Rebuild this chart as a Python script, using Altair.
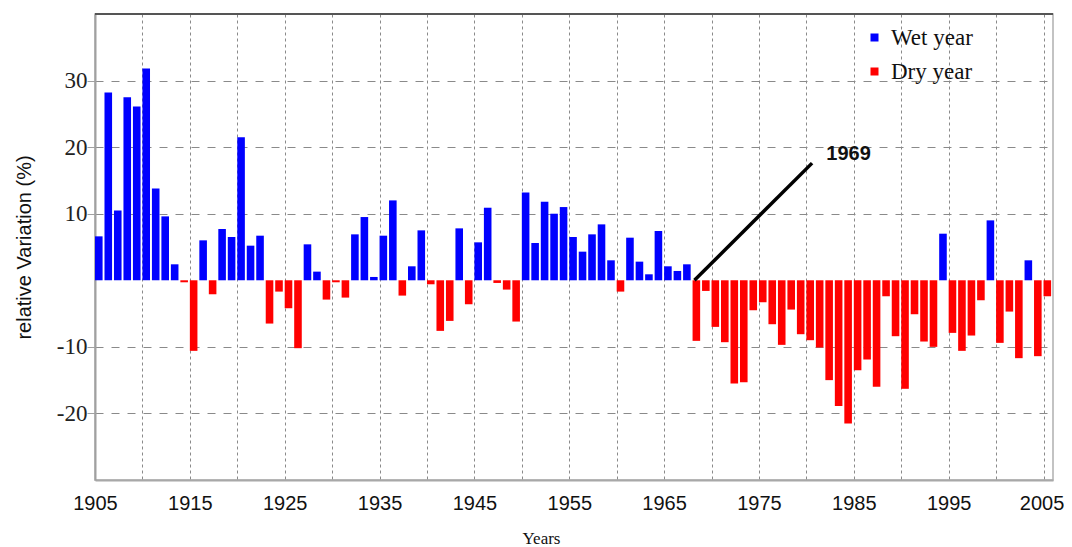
import altair as alt
import pandas as pd

# ---- data ----
start_year = 1905
values = [
    6.6, 28.2, 10.5, 27.5, 26.1, 31.8, 13.8, 9.6, 2.4, -0.3,      # 1905-1914
    -10.6, 6.0, -2.1, 7.7, 6.5, 21.5, 5.2, 6.7, -6.5, -1.7,       # 1915-1924
    -4.2, -10.2, 5.4, 1.3, -2.9, -0.3, -2.6, 6.9, 9.5, 0.5,       # 1925-1934
    6.7, 12.0, -2.3, 2.1, 7.5, -0.6, -7.6, -6.1, 7.8, -3.6,       # 1935-1944
    5.7, 10.9, -0.4, -1.4, -6.2, 13.2, 5.6, 11.8, 10.0, 11.0,     # 1945-1954
    6.5, 4.3, 6.9, 8.4, 3.0, -1.7, 6.4, 2.8, 0.9, 7.4,            # 1955-1964
    2.1, 1.4, 2.4, -9.1, -1.6, -7.0, -9.3, -15.5, -15.3, -4.5,    # 1965-1974
    -3.3, -6.6, -9.7, -4.4, -8.1, -9.0, -10.1, -15.0, -18.9, -21.5,  # 1975-1984
    -13.5, -11.9, -16.0, -2.4, -8.4, -16.3, -5.1, -9.2, -10.0, 7.0,  # 1985-1994
    -7.9, -10.6, -8.3, -3.0, 9.0, -9.4, -4.7, -11.7, 3.0, -11.4,  # 1995-2004
    -2.4,                                                          # 2005
]
years = list(range(start_year, start_year + len(values)))

series_names = ["Wet year", "Dry year"]
series_colors = ["#0000FF", "#FF0000"]

annot_x = [1968.2, 1980.6]
annot_y = [0.0, 17.6]
annot_text = ["1969"]
annot_text_x = [1982.1]
annot_text_y = [18.9]

x_domain = [1905, 2006]
y_domain = [-30, 40]
x_ticks = list(range(1905, 2006, 5))
y_ticks = [-20, -10, 10, 20, 30]

# ---- tables ----
df = pd.DataFrame({"year": years, "value": values})
df["kind"] = ["Wet year" if v > 0 else "Dry year" for v in values]

ann_df = pd.DataFrame({"year": annot_x, "value": annot_y})
lab_df = pd.DataFrame({"year": annot_text_x, "value": annot_text_y, "t": annot_text})
top_df = pd.DataFrame({"value": [y_domain[1]]})

xs = alt.Scale(domain=x_domain, nice=False, zero=False)
ys = alt.Scale(domain=y_domain, nice=False, zero=False)

x_axis = alt.Axis(
    values=x_ticks,
    format="d",
    labelExpr="datum.value % 10 == 5 ? datum.label : ''",
    labelFlush=False,
    labelBound=False,
    labelOffset={"condition": {"test": "datum.value == 2005", "value": -2}, "value": 0},
    grid=True,
    gridDash=[3, 3],
    gridColor="#8a8a8a",
    gridWidth=1,
    ticks=False,
    domainColor="#a8a8a8",
    domainWidth=2,
    labelFont="Liberation Sans",
    labelFontSize=20,
    labelColor="#111",
    labelPadding=13,
    labelOverlap=False,
    title="Years",
    titleFont="Liberation Serif",
    titleFontSize=17,
    titleFontWeight="normal",
    titleColor="#111",
    titleX=446,
    titleY=58,
    titleBaseline="middle",
    titleAlign="center",
)

y_axis = alt.Axis(
    values=y_ticks,
    labelExpr="datum.value + ''",
    grid=True,
    gridDash=[8, 8],
    gridColor="#8a8a8a",
    gridWidth=1,
    ticks=True,
    tickSize=8,
    tickColor="#a0a0a0",
    domainColor="#a0a0a0",
    domainWidth=2,
    labelFont="Liberation Serif",
    labelFontSize=23,
    labelColor="#222",
    labelPadding=0,
    title="relative Variation (%)",
    titleFont="Liberation Sans",
    titleFontSize=20,
    titleFontWeight="normal",
    titleColor="#111",
    titleX=-61,
    titleY=233,
    titleAngle=270,
    titleAlign="center",
    titleBaseline="bottom",
)

bars = (
    alt.Chart(df)
    .transform_calculate(year_end="datum.year + 0.8")
    .mark_bar(strokeWidth=0)
    .encode(
        x=alt.X("year:Q", scale=xs, axis=x_axis),
        x2="year_end:Q",
        y=alt.Y("value:Q", scale=ys, axis=y_axis),
        y2=alt.datum(0),
        color=alt.Color(
            "kind:N",
            scale=alt.Scale(domain=series_names, range=series_colors),
            legend=alt.Legend(
                title=None,
                orient="none",
                legendX=768,
                legendY=12,
                symbolType="square",
                symbolSize=64,
                symbolStrokeWidth=0,
                labelFont="Liberation Serif",
                labelFontSize=23,
                labelColor="#111",
                labelOffset=5,
                rowPadding=10,
            ),
        ),
    )
)

top_rule = alt.Chart(top_df).mark_rule(color="#555", strokeWidth=2).encode(
    y=alt.Y("value:Q", scale=ys, axis=y_axis)
)

ann_line = alt.Chart(ann_df).mark_line(color="black", strokeWidth=3.5).encode(
    x=alt.X("year:Q", scale=xs, axis=x_axis),
    y=alt.Y("value:Q", scale=ys, axis=y_axis),
)

ann_text = alt.Chart(lab_df).mark_text(
    align="left", baseline="middle", font="Liberation Sans",
    fontWeight="bold", fontSize=20, color="#111"
).encode(
    x=alt.X("year:Q", scale=xs, axis=x_axis),
    y=alt.Y("value:Q", scale=ys, axis=y_axis),
    text="t:N",
)

chart = (
    alt.layer(bars, ann_line, ann_text, top_rule)
    .properties(
        width=958,
        height=466,
        autosize=alt.AutoSizeParams(type="none"),
        padding={"left": 87, "top": 6, "right": 11, "bottom": 66},
        background="white",
    )
    .configure_view(stroke="#b0b0b0", strokeWidth=1.5)
)

chart.save("out.html", embed_options={"renderer": "svg", "actions": False})
